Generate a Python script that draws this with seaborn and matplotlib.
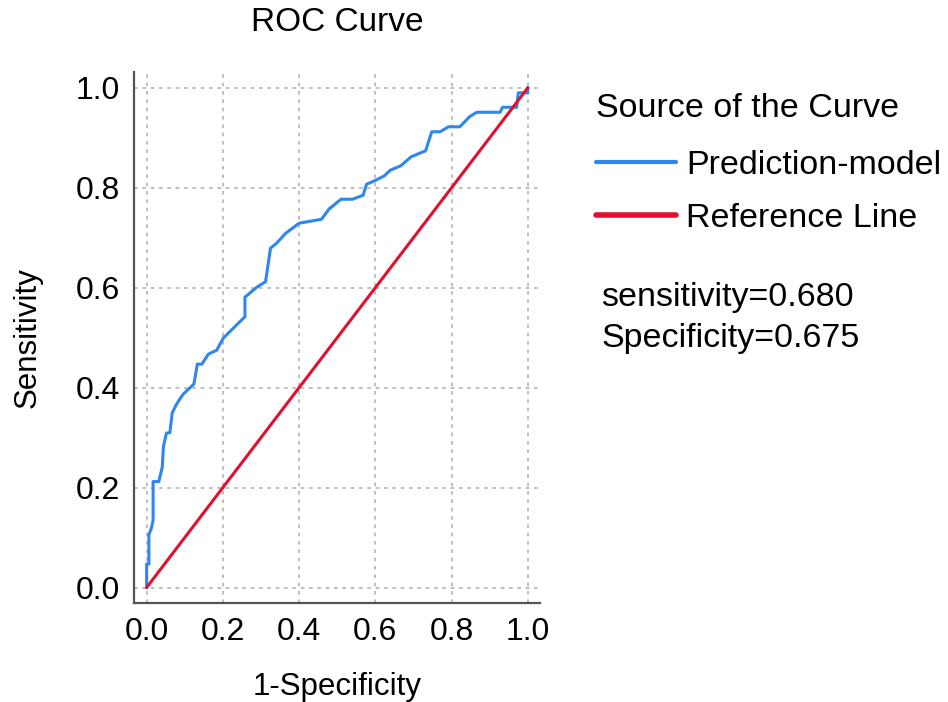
import matplotlib
matplotlib.use("Agg")
import matplotlib.pyplot as plt
import seaborn as sns
import pandas as pd

# ROC points
fpr = [0.0, 0.0, 0.006, 0.006, 0.011, 0.017, 0.017, 0.032, 0.041, 0.044,
       0.052, 0.061, 0.067, 0.077, 0.087, 0.096, 0.124, 0.133, 0.145, 0.162,
       0.184, 0.201, 0.258, 0.258, 0.289, 0.312, 0.325, 0.341, 0.365, 0.400,
       0.459, 0.478, 0.510, 0.540, 0.568, 0.577, 0.601, 0.624, 0.639, 0.667,
       0.694, 0.732, 0.748, 0.770, 0.792, 0.822, 0.847, 0.866, 0.927, 0.934,
       0.971, 0.975, 1.0, 1.0]
tpr = [0.0, 0.047, 0.047, 0.107, 0.115, 0.134, 0.212, 0.212, 0.241, 0.282,
       0.309, 0.310, 0.349, 0.365, 0.377, 0.387, 0.407, 0.447, 0.447, 0.467,
       0.475, 0.499, 0.542, 0.581, 0.601, 0.612, 0.679, 0.689, 0.709, 0.729,
       0.737, 0.757, 0.777, 0.777, 0.785, 0.807, 0.815, 0.824, 0.835, 0.844,
       0.862, 0.874, 0.912, 0.912, 0.922, 0.922, 0.942, 0.951, 0.951, 0.961,
       0.961, 0.990, 0.990, 1.0]
ref_x = [0.0, 1.0]
ref_y = [0.0, 1.0]
ticks = [0.0, 0.2, 0.4, 0.6, 0.8, 1.0]
series_names = ["Prediction-model", "Reference Line"]
stats_text = "sensitivity=0.680\nSpecificity=0.675"

blue = "#2f86ec"
red = "#e0102e"

sns.set_style("white")
plt.rcParams["font.family"] = ["Liberation Sans", "DejaVu Sans"]
plt.rcParams["text.color"] = "black"
plt.rcParams["axes.labelcolor"] = "black"
plt.rcParams["xtick.color"] = "black"
plt.rcParams["ytick.color"] = "black"

roc = pd.DataFrame({"fpr": fpr, "tpr": tpr})
ref = pd.DataFrame({"fpr": ref_x, "tpr": ref_y})

fig = plt.figure(figsize=(9.48, 7.02), dpi=100)
ax = fig.add_axes([0.1414, 0.141, 0.4282, 0.756])

sns.lineplot(data=roc, x="fpr", y="tpr", estimator=None, sort=False,
             color=blue, linewidth=2.2, ax=ax, legend=False)
sns.lineplot(data=ref, x="fpr", y="tpr", estimator=None, sort=False,
             color=red, linewidth=2.2, ax=ax, legend=False)

ax.set_xlim(-0.033, 1.032)
ax.set_ylim(-0.031, 1.031)
ax.set_xticks(ticks)
ax.set_yticks(ticks)
ax.set_xticklabels([f"{t:.1f}" for t in ticks])
ax.set_yticklabels([f"{t:.1f}" for t in ticks])
ax.tick_params(length=0, pad=10, labelsize=23)
ax.grid(True, color="#b4b4b4", linestyle=(0, (2.2, 2.8)), linewidth=1.2)
ax.set_axisbelow(True)

for side in ["top", "right"]:
    ax.spines[side].set_visible(False)
for side in ["left", "bottom"]:
    ax.spines[side].set_color("#555555")
    ax.spines[side].set_linewidth(1.6)

ax.set_title("ROC Curve", fontsize=24, pad=30)
ax.set_xlabel("1-Specificity", fontsize=22.5, labelpad=18)
ax.set_ylabel("Sensitivity", fontsize=22.5, labelpad=24)

handles = [plt.Line2D([], [], color=blue, linewidth=3),
           plt.Line2D([], [], color=red, linewidth=4)]
leg = fig.legend(handles, series_names, title="Source of the Curve",
                 loc="upper left", bbox_to_anchor=(0.629, 0.868),
                 frameon=False, fontsize=24.5, title_fontsize=24.5,
                 handlelength=2.35, handletextpad=0.3, labelspacing=0.65,
                 borderaxespad=0, borderpad=0)
leg._legend_box.align = "left"
leg._legend_box.sep = 19

fig.text(0.634, 0.598, stats_text, fontsize=24.5, ha="left", va="top",
         linespacing=1.4)

fig.savefig("out.png", dpi=100)
